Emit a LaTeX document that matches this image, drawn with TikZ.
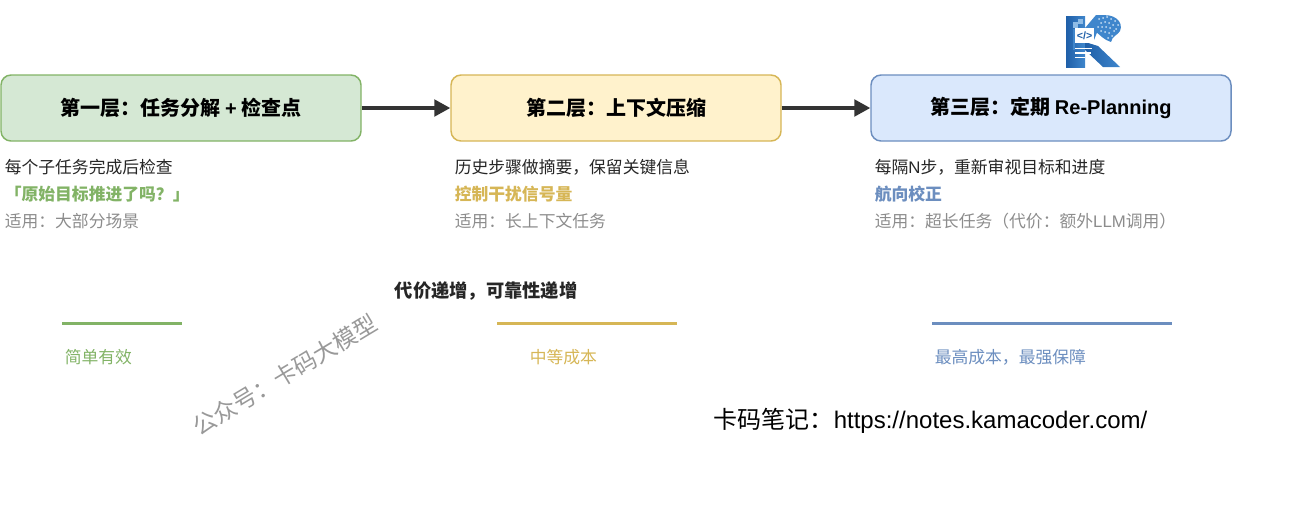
\documentclass[tikz,border=0pt]{standalone}
\usepackage{fontspec}
\usepackage{xcolor}
\setmainfont{Liberation Sans}
\newfontfamily\cjk{Noto Sans CJK SC}
\usetikzlibrary{calc,arrows.meta}
\definecolor{greenfill}{HTML}{D5E8D4}
\definecolor{greenline}{HTML}{82B366}
\definecolor{yellowfill}{HTML}{FFF2CC}
\definecolor{yellowline}{HTML}{D6B656}
\definecolor{bluefill}{HTML}{DAE8FC}
\definecolor{blueline}{HTML}{6C8EBF}
\definecolor{logoblue}{HTML}{1F5FA8}
\definecolor{logomid}{HTML}{3F86CC}
\definecolor{logolight}{HTML}{8FBCE6}

\begin{document}
\begin{tikzpicture}
    [%%%%%%%%%%%%%%%%%%%%%%%%%%%%%%
        x=0.75pt,y=-0.75pt,
        layer/.style={draw,rounded corners=7.5pt,line width=1.1pt,minimum height=49.5pt,inner sep=0pt,
            font=\cjk\bfseries\fontsize{15}{18}\selectfont,text=black},
        txt/.style={anchor=west,inner sep=0pt,font=\cjk\fontsize{12.6}{15}\selectfont,text=black!85},
        hint/.style={txt,font=\cjk\bfseries\fontsize{12.6}{15}\selectfont},
        note/.style={txt,text=black!45},
        mark line/.style={line width=2.25pt},
        flow/.style={line width=2.4pt,draw=black!80,-{Triangle[length=12pt,width=12.5pt]}},
    ]%%%%%%%%%%%%%%%%%%%%%%%%%%%%%%

\useasboundingbox (0,0) rectangle (1294,519);

% the three layers
\node[layer,fill=greenfill,draw=greenline,minimum width=270pt] (first) at (181,108){第一层：任务分解 {\rmfamily\bfseries +} 检查点};
\node[layer,fill=yellowfill,draw=yellowline,minimum width=247.5pt] (second) at (616,108){第二层：上下文压缩};
\node[layer,fill=bluefill,draw=blueline,minimum width=270pt] (third) at (1051,108){第三层：定期 {\rmfamily\bfseries Re-Planning}};

\draw[flow] (first) -- (second);
\draw[flow] (second) -- (third);

% text under the boxes
\node[txt] (a1) at (4.5,167){每个子任务完成后检查};
\node[hint,text=greenline] (a2) at (4.5,194){「原始目标推进了吗？」};
\node[note] (a3) at (4.5,221){适用：大部分场景};

\node[txt] (b1) at (454.5,167){历史步骤做摘要，保留关键信息};
\node[hint,text=yellowline] (b2) at (454.5,194){控制干扰信号量};
\node[note] (b3) at (454.5,221){适用：长上下文任务};

\node[txt] (c1) at (874.5,167){每隔{\rmfamily N}步，重新审视目标和进度};
\node[hint,text=blueline] (c2) at (874.5,194){航向校正};
\node[note] (c3) at (874.5,221){适用：超长任务（代价：额外{\rmfamily LLM}调用）};

\node[txt,font=\cjk\bfseries\fontsize{13.7}{16}\selectfont] (cost) at (394.5,291){代价递增，可靠性递增};

% bars
\foreach \name/\xa/\xb/\col in {g/62/182/greenline,y/497/677/yellowline,b/932/1172/blueline}{
	\coordinate (\name l) at (\xa,323);
	\coordinate (\name r) at (\xb,323);
	\draw[mark line,draw=\col] (\name l) -- (\name r);
}
\node[txt,text=greenline] (gtxt) at (64.5,357){简单有效};
\node[txt,text=yellowline] (ytxt) at (529.5,357){中等成本};
\node[txt,text=blueline] (btxt) at (934.5,357){最高成本，最强保障};

% watermark and footer
\node[inner sep=0pt,rotate=31,text=black!40,font=\cjk\fontsize{17.5}{20}\selectfont] (mark) at (285,375){公众号：卡码大模型};
\node[anchor=west,inner sep=0pt,text=black,font=\fontsize{18}{22}\selectfont] (url) at (713.5,421){{\cjk 卡码笔记：}https://notes.kamacoder.com/};

% logo
\shade[left color=logoblue,right color=logomid] (1066,16) -- (1085,16) -- (1085,67) -- (1066,67) -- cycle;
\shade[left color=logoblue,right color=logomid] (1085,42) -- (1098,46) -- (1120,67) -- (1103,67) -- (1085,50) -- cycle;
\fill[logomid] (1085,28) -- (1096,15) -- (1104,15) -- (1094,40) -- (1085,42) -- cycle;
\fill[logomid] (1098,16) .. controls (1114,12) and (1124,22) .. (1120,31) .. controls (1118,35) and (1112,36) .. (1111,42) .. controls (1104,40) and (1100,35) .. (1095,31) -- cycle;
\foreach \px/\py in {1099/19,1103/18,1107/17,1111/19,1115/21,1118/25,1101/23,1105/22,1109/23,1113/25,1116/29,
	1098/27,1102/27,1106/27,1110/28,1114/31,1101/31,1105/32,1109/33,1112/36,1108/38}{
	\fill[logolight!50!white] (\px,\py) circle (0.75pt);
}
\fill[logolight] (1073,22) rectangle (1078,28);
\fill[logolight] (1078,19) rectangle (1083,24);
\fill[logomid] (1073,29) rectangle (1075,50);
\fill[white] (1075,28) rectangle (1094,43);
\node[inner sep=0pt,text=logoblue,font=\bfseries\fontsize{8}{9}\selectfont] (code) at (1084.5,35.5){</>};
\foreach \py/\pw in {47.5/1092,52/1091,56.5/1085}{
	\fill[white] (1075,\py) rectangle (\pw,\py+1.6);
}
\end{tikzpicture}
\end{document}
